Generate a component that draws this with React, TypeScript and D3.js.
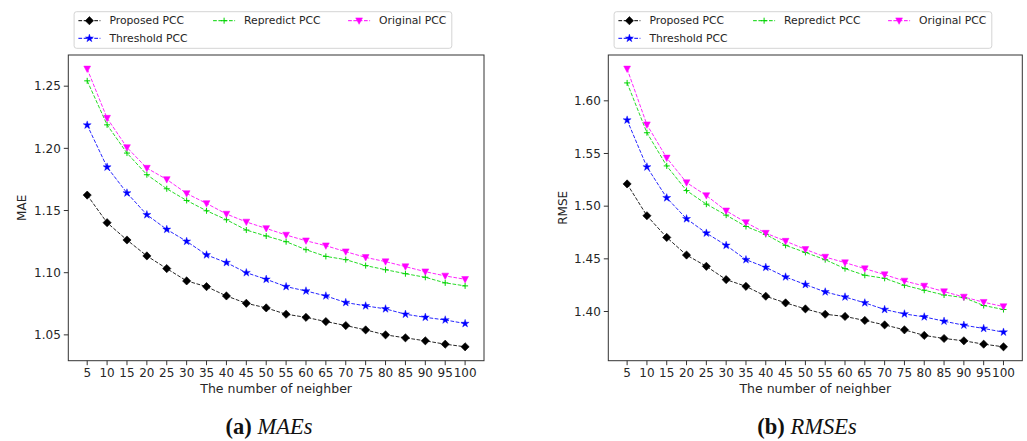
import React from "react";
import * as d3 from "d3";

const NEIGHBORS = [5, 10, 15, 20, 25, 30, 35, 40, 45, 50, 55, 60, 65, 70, 75, 80, 85, 90, 95, 100];

const SERIES_NAMES = ["Proposed PCC", "Repredict PCC", "Original PCC", "Threshold PCC"];

const maeProposed = [1.1624, 1.1402, 1.1263, 1.1135, 1.1033, 1.0934, 1.0888, 1.0813, 1.0754, 1.0717, 1.0666, 1.0641, 1.0607, 1.0575, 1.054, 1.05, 1.0476, 1.0452, 1.0425, 1.0404];
const maeThreshold = [1.2187, 1.1849, 1.1641, 1.1466, 1.1348, 1.1252, 1.1143, 1.1081, 1.1, 1.0947, 1.0888, 1.0853, 1.0813, 1.076, 1.0733, 1.0709, 1.0666, 1.0641, 1.062, 1.0591];
const maeRepredict = [1.2543, 1.2189, 1.1962, 1.1788, 1.1675, 1.1581, 1.1498, 1.1426, 1.1343, 1.1295, 1.1249, 1.1185, 1.1131, 1.1105, 1.1057, 1.1024, 1.0992, 1.0963, 1.0918, 1.0894];
const maeOriginal = [1.2639, 1.2243, 1.2007, 1.1841, 1.175, 1.1637, 1.1557, 1.1472, 1.1408, 1.1356, 1.1303, 1.1257, 1.1217, 1.1169, 1.1123, 1.1089, 1.1049, 1.1008, 1.0974, 1.0947];

const rmseProposed = [1.5211, 1.4909, 1.4703, 1.4536, 1.4429, 1.4303, 1.4239, 1.4145, 1.4082, 1.4025, 1.3974, 1.3953, 1.3915, 1.3873, 1.3826, 1.3773, 1.3744, 1.3722, 1.369, 1.3665];
const rmseThreshold = [1.5817, 1.5372, 1.5079, 1.488, 1.4744, 1.4628, 1.4492, 1.4419, 1.4328, 1.4256, 1.4186, 1.4138, 1.4082, 1.4019, 1.3977, 1.3949, 1.3908, 1.387, 1.3839, 1.3804];
const rmseRepredict = [1.617, 1.5697, 1.5382, 1.5148, 1.5019, 1.4915, 1.4807, 1.4732, 1.4628, 1.4561, 1.4492, 1.4407, 1.4344, 1.4315, 1.4249, 1.4202, 1.4157, 1.4132, 1.4057, 1.4019];
const rmseOriginal = [1.6303, 1.5773, 1.5458, 1.5224, 1.5101, 1.4956, 1.4845, 1.4744, 1.4668, 1.459, 1.4517, 1.4464, 1.4407, 1.435, 1.429, 1.4242, 1.4189, 1.4138, 1.4088, 1.4047];

const MAE_TICKS = [1.05, 1.1, 1.15, 1.2, 1.25];
const RMSE_TICKS = [1.4, 1.45, 1.5, 1.55, 1.6];

type MarkerKind = "diamond" | "plus" | "tri" | "star";
const STYLES: { color: string; marker: MarkerKind }[] = [
  { color: "#000000", marker: "diamond" },
  { color: "#00d400", marker: "plus" },
  { color: "#ff00ff", marker: "tri" },
  { color: "#0000ff", marker: "star" },
];

const FONT = "'DejaVu Sans', sans-serif";

function Marker({ kind, x, y, color }: { kind: MarkerKind; x: number; y: number; color: string }) {
  if (kind === "diamond") {
    const r = 4.1;
    return <path d={`M${x},${y - r}L${x + r},${y}L${x},${y + r}L${x - r},${y}Z`} fill={color} stroke={color} strokeWidth={0.6} />;
  }
  if (kind === "plus") {
    const r = 3;
    return <path d={`M${x - r},${y}H${x + r}M${x},${y - r}V${y + r}`} stroke={color} strokeWidth={1} fill="none" />;
  }
  if (kind === "tri") {
    const w = 3.4, h = 2.8;
    return <path d={`M${x - w},${y - h}H${x + w}L${x},${y + h + 0.8}Z`} fill={color} stroke={color} strokeWidth={0.5} />;
  }
  const star = d3.symbol().type(d3.symbolStar).size(20)();
  return <path d={star || ""} transform={`translate(${x},${y})`} fill={color} stroke={color} strokeWidth={0.4} />;
}

function Panel(props: {
  left: number; right: number; top: number; bottom: number;
  data: number[][]; yTicks: number[]; yLabel: string; yLabelX: number;
  letter: string; captionWord: string; captionX: number;
}) {
  const { left, right, top, bottom, data, yTicks, yLabel, yLabelX, letter, captionWord, captionX } = props;
  const xMin = d3.min(NEIGHBORS)!, xMax = d3.max(NEIGHBORS)!;
  const xPad = (xMax - xMin) * 0.05;
  const x = d3.scaleLinear().domain([xMin - xPad, xMax + xPad]).range([left, right]);
  const all = data.flat();
  const yMin = d3.min(all)!, yMax = d3.max(all)!;
  const yPad = (yMax - yMin) * 0.05;
  const y = d3.scaleLinear().domain([yMin - yPad, yMax + yPad]).range([bottom, top]);
  const line = d3.line<number>().x((_, i) => x(NEIGHBORS[i])).y((d) => y(d));

  const legLeft = left + 5.8;
  const legTop = 11.7;
  const colX = [4.3, 139, 274];
  const rowY = [9, 26.6];
  const legendOrder = [0, 1, 2, 3];

  return (
    <g>
      {data.map((vals, si) => (
        <g key={si}>
          <path d={line(vals) || ""} fill="none" stroke={STYLES[si].color} strokeWidth={1} strokeDasharray="3.7,1.6" opacity={0.85} />
          {vals.map((v, i) => (
            <Marker key={i} kind={STYLES[si].marker} x={x(NEIGHBORS[i])} y={y(v)} color={STYLES[si].color} />
          ))}
        </g>
      ))}
      <rect x={left} y={top} width={right - left} height={bottom - top} fill="none" stroke="#333" strokeWidth={1} />
      {NEIGHBORS.map((n) => (
        <g key={n} transform={`translate(${x(n)},${bottom})`}>
          <line y1={0} y2={4.5} stroke="#333" strokeWidth={1} />
          <text y={16.5} textAnchor="middle" fontFamily={FONT} fontSize={12} fill="#262626">{n}</text>
        </g>
      ))}
      {yTicks.map((t) => (
        <g key={t} transform={`translate(${left},${y(t)})`}>
          <line x1={0} x2={-4.5} stroke="#333" strokeWidth={1} />
          <text x={-7.5} dy="0.35em" textAnchor="end" fontFamily={FONT} fontSize={12} fill="#262626">{d3.format(".2f")(t)}</text>
        </g>
      ))}
      <text x={(left + right) / 2} y={393} textAnchor="middle" fontFamily={FONT} fontSize={12.5} fill="#262626">The number of neighber</text>
      <text transform={`translate(${yLabelX},${(top + bottom) / 2}) rotate(-90)`} dy="0.35em" textAnchor="middle" fontFamily={FONT} fontSize={12} fill="#262626">{yLabel}</text>
      <rect x={legLeft} y={legTop} width={377.7} height={36.6} rx={2.5} fill="white" fillOpacity={0.8} stroke="#d4d4d4" strokeWidth={1} />
      {legendOrder.map((si) => {
        const col = si < 3 ? si : 0;
        const row = si < 3 ? 0 : 1;
        const hx = legLeft + colX[col];
        const hy = legTop + rowY[row];
        return (
          <g key={si}>
            <line x1={hx} x2={hx + 22} y1={hy} y2={hy} stroke={STYLES[si].color} strokeWidth={1} strokeDasharray="3.7,1.6" />
            <Marker kind={STYLES[si].marker} x={hx + 11} y={hy} color={STYLES[si].color} />
            <text x={hx + 31} y={hy} dy="0.35em" fontFamily={FONT} fontSize={10.8} fill="#262626">{SERIES_NAMES[si]}</text>
          </g>
        );
      })}
      <text x={captionX} y={434} textAnchor="middle" fontFamily="'Liberation Serif', serif" fontSize={22.5} fill="#111">
        <tspan fontWeight="bold">({letter})</tspan>
        <tspan> </tspan>
        <tspan fontStyle="italic">{captionWord}</tspan>
      </text>
    </g>
  );
}

export default function App() {
  return (
    <svg width={1027} height={441} style={{ position: "absolute", left: 0, top: 0, background: "white" }}>
      <rect width={1027} height={441} fill="white" />
      <Panel left={68.3} right={484} top={55} bottom={360.7}
        data={[maeProposed, maeRepredict, maeOriginal, maeThreshold]}
        yTicks={MAE_TICKS} yLabel="MAE" yLabelX={21.7}
        letter="a" captionWord="MAEs" captionX={269} />
      <Panel left={608.3} right={1022.3} top={55} bottom={360.7}
        data={[rmseProposed, rmseRepredict, rmseOriginal, rmseThreshold]}
        yTicks={RMSE_TICKS} yLabel="RMSE" yLabelX={562.7}
        letter="b" captionWord="RMSEs" captionX={807} />
    </svg>
  );
}
